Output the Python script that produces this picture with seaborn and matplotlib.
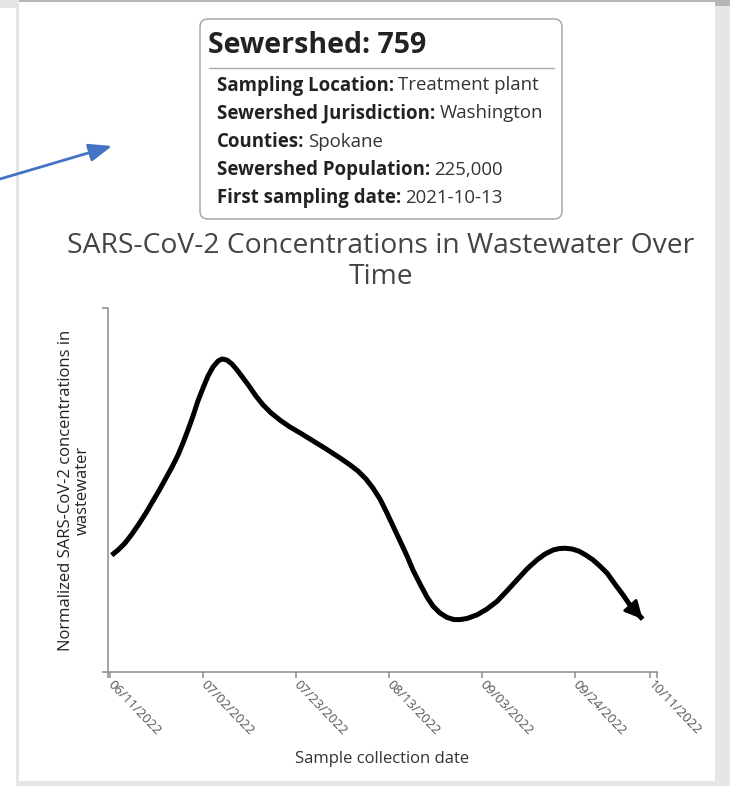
import numpy as np
import pandas as pd
import matplotlib
matplotlib.use("Agg")
import matplotlib.pyplot as plt
import matplotlib.dates as mdates
from matplotlib.patches import FancyBboxPatch, Rectangle, FancyArrowPatch
from matplotlib.lines import Line2D
from matplotlib.transforms import IdentityTransform
import seaborn as sns

# ---------------- data ----------------
start_date = "2022-06-11"
day_offsets = [0.29, 1.72, 3.30, 4.88, 6.46, 8.04, 9.62, 11.21, 12.56, 13.92,
               15.27, 16.40, 17.53, 18.66, 19.79, 20.92, 22.05, 23.18, 24.31, 25.21,
               26.34, 27.47, 28.60, 29.96, 31.31, 32.89, 34.48, 36.28, 38.32, 40.58,
               42.84, 45.78, 48.71, 51.88, 54.14, 55.95, 57.76, 59.34, 60.92, 62.28,
               63.86, 65.44, 67.01, 68.37, 69.95, 71.53, 72.89, 74.47, 76.05, 77.63,
               78.99, 80.57, 82.83, 85.09, 87.35, 89.61, 91.87, 94.13, 96.39, 98.19,
               100.00, 101.35, 102.71, 104.29, 105.87, 107.45, 109.03, 110.61, 112.19,
               113.32, 114.45, 115.81, 117.39, 118.74, 120.26]
concentration = [32.1, 33.5, 35.4, 37.9, 40.7, 43.7, 47.0, 50.3, 53.3, 56.3,
                 59.6, 62.9, 66.5, 70.3, 74.5, 78.0, 81.3, 83.8, 85.4, 86.0,
                 85.7, 84.6, 83.0, 80.8, 78.6, 75.8, 73.4, 71.2, 69.2, 67.3,
                 65.7, 63.5, 61.3, 58.8, 56.9, 55.2, 53.0, 50.5, 47.5, 44.2,
                 40.1, 36.0, 31.9, 28.0, 24.2, 20.6, 18.1, 16.2, 15.0, 14.4,
                 14.4, 14.7, 15.7, 17.3, 19.4, 22.3, 25.3, 28.3, 30.8, 32.4,
                 33.5, 33.9, 34.0, 33.8, 33.2, 32.1, 30.8, 29.1, 27.2,
                 25.3, 23.4, 21.2, 18.4, 16.5, 14.5]
tick_dates = ["2022-06-11", "2022-07-02", "2022-07-23", "2022-08-13",
              "2022-09-03", "2022-09-24", "2022-10-11"]

chart_title = "SARS-CoV-2 Concentrations in Wastewater Over\nTime"
y_label = "Normalized SARS-CoV-2 concentrations in\nwastewater"
x_label = "Sample collection date"

sewershed_id = "759"
info_labels = ["Sampling Location:", "Sewershed Jurisdiction:", "Counties:",
               "Sewershed Population:", "First sampling date:"]
info_values = ["Treatment plant", "Washington", "Spokane", "225,000", "2021-10-13"]

# ---------------- figure ----------------
W, H = 730, 786
sns.set_theme(style="white")
plt.rcParams['font.family'] = ['Open Sans', 'DejaVu Sans']

fig = plt.figure(figsize=(W / 100, H / 100), dpi=100)
fig.patch.set_facecolor("white")
IDT = IdentityTransform()


def rect(x0, y0, x1, y1, color):
    fig.add_artist(Rectangle((x0, H - y1), x1 - x0, y1 - y0, transform=IDT,
                             facecolor=color, edgecolor="none", zorder=0))


# screenshot frame
light = "#e6e6e6"
dark = "#b6b6b6"
rect(0, 0, 19, 8, light)
rect(16, 8, 19, H, light)
rect(19, 0, 715, 2, dark)
rect(715, 0, W, 6, dark)
rect(715, 6, W, H, light)
rect(19, 781, 715, H, light)

# ---------------- chart ----------------
ax = fig.add_axes([108 / W, (H - 672) / H, 549 / W, 364 / H])
df = pd.DataFrame({
    "date": pd.Timestamp(start_date) + pd.to_timedelta(day_offsets, unit="D"),
    "value": concentration,
})
sns.lineplot(data=df, x="date", y="value", ax=ax, color="black", lw=3.6,
             sort=False, estimator=None)
ax.lines[0].set_solid_capstyle("butt")
ax.lines[0].set_solid_joinstyle("round")

x0 = pd.Timestamp(start_date) - pd.Timedelta(days=0.54)
x1 = pd.Timestamp(start_date) + pd.Timedelta(days=123.5)
ax.set_xlim(x0, x1)
ax.set_ylim(0, 100)

# arrow head at the end of the series
dn = mdates.date2num(df["date"])
ax.annotate("", xy=(dn[-1], concentration[-1]), xytext=(dn[-3], concentration[-3]),
            arrowprops=dict(arrowstyle="-|>,head_length=1.0,head_width=0.5",
                            mutation_scale=11, color="black", lw=2,
                            shrinkA=0, shrinkB=0))

ax.set_xticks(pd.to_datetime(tick_dates))
ax.xaxis.set_major_formatter(mdates.DateFormatter("%m/%d/%Y"))
ax.set_xticks([mdates.date2num(x0), mdates.date2num(x1)], minor=True)
ax.set_yticks([0, 100])
ax.set_yticklabels([])

axis_grey = "#8c8c8c"
ax.tick_params(axis="x", which="both", direction="out", length=4.3, width=1.1,
               color=axis_grey, bottom=True)
ax.tick_params(axis="x", which="major", labelsize=9.5, labelcolor="#555555", pad=3.5)
ax.tick_params(axis="y", direction="out", length=4.3, width=1.1, color=axis_grey,
               left=True)
for lab in ax.get_xticklabels():
    lab.set_rotation(-46)
    lab.set_ha("left")
    lab.set_va("center")
    lab.set_rotation_mode("anchor")

sns.despine(ax=ax)
for s in ("left", "bottom"):
    ax.spines[s].set_color(axis_grey)
    ax.spines[s].set_linewidth(1.1)

ax.set_ylabel(y_label, fontsize=12, color="#222222", linespacing=1.05)
ax.yaxis.set_label_coords(-0.031, 0.5)
ax.set_xlabel(x_label, fontsize=12, color="#333333")
ax.xaxis.set_label_coords(0.5, -0.2175)

fig.text(381 / W, 1 - 232 / H, chart_title, ha="center", va="top", fontsize=20.3,
         color="#444444", linespacing=1.16)

# ---------------- info box ----------------
fig.add_artist(FancyBboxPatch((200, H - 219), 362, 200, transform=IDT,
                              boxstyle="round,pad=0,rounding_size=8",
                              facecolor="white", edgecolor="#a8a8a8", lw=1.1))
fig.text(208.5, H - 53.3, f"Sewershed: {sewershed_id}", transform=IDT,
         ha="left", va="baseline", fontsize=20.5, fontweight="bold", color="#222222")
fig.add_artist(Line2D([209, 554], [H - 68, H - 68], transform=IDT,
                      color="#aaaaaa", lw=1.0))

renderer = fig.canvas.get_renderer()
baselines = [90.5, 118.5, 147, 175, 203]
for lbl, val, yb in zip(info_labels, info_values, baselines):
    t = fig.text(217, H - yb, lbl, transform=IDT, ha="left", va="baseline",
                 fontsize=13.4, fontweight="bold", color="#222222")
    bb = t.get_window_extent(renderer)
    fig.text(bb.x1 + 4, H - yb, val, transform=IDT, ha="left", va="baseline",
             fontsize=13.4, color="#333333")

# blue pointer arrow
fig.add_artist(FancyArrowPatch((0, H - 179), (112, H - 146), transform=IDT,
                               arrowstyle="-|>,head_length=1.4,head_width=0.55",
                               mutation_scale=10, color="#4472c4", lw=2,
                               shrinkA=0, shrinkB=0))

fig.savefig("out.png", dpi=100)
